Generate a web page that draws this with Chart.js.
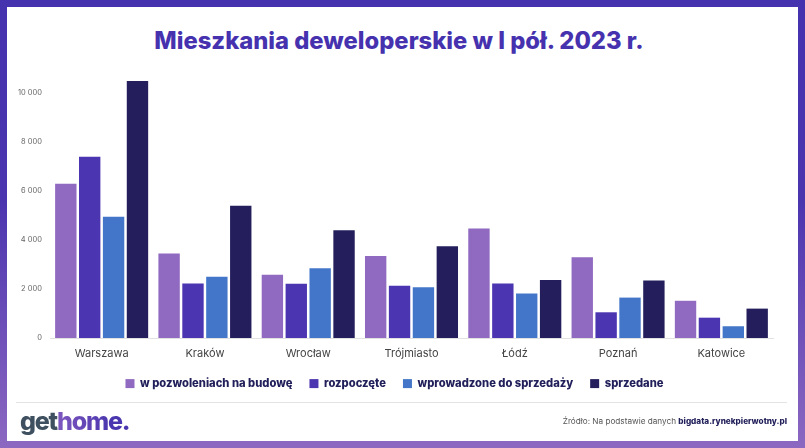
<!DOCTYPE html>
<html lang="pl">
<head>
<meta charset="utf-8">
<title>Mieszkania deweloperskie</title>
<script src="https://cdn.jsdelivr.net/npm/chart.js@4"></script>
<style>
	html, body { margin: 0; padding: 0; }
	body { width: 805px; height: 448px; overflow: hidden; position: relative; background: linear-gradient(180deg, #4532ae 0%, #4b35af 45%, #8c68c1 100%); }
	#panel { position: absolute; left: 7px; top: 7px; width: 791px; height: 434px; background: #fff; }
	#wrap { position: absolute; left: 0; top: 0; width: 805px; height: 448px; }
	#title { position: absolute; left: 0; top: 26px; width: 798px; text-align: center; font: 800 23.75px Inter, sans-serif; line-height: 30px; color: #4632ae; }
	#rule { position: absolute; left: 16px; top: 402px; width: 771px; height: 1px; background: #e4e4e4; }
	#logo { position: absolute; left: 20px; top: 406px; font: 800 25px Inter, sans-serif; line-height: 30px; letter-spacing: -1.2px; color: #3f5160; }
	#logo span { background: linear-gradient(90deg, #7f58c0, #4a36ae 75%); -webkit-background-clip: text; background-clip: text; color: transparent; }
	#source { position: absolute; right: 18px; top: 416px; font: 400 8.2px Inter, sans-serif; line-height: 11px; color: #555; }
	#source b { color: #22205a; font-weight: 800; }
</style>
</head>
<body>
<div id="panel"></div>
<div id="title">Mieszkania deweloperskie w I pół. 2023 r.</div>
<div id="rule"></div>
<div id="wrap"><canvas id="mycanvas" width="805" height="448"></canvas></div>
<div id="logo">get<span>home.</span></div>
<div id="source">Źródło: Na podstawie danych <b>bigdata.rynekpierwotny.pl</b></div>
<script>
	var cities = ["Warszawa", "Kraków", "Wrocław", "Trójmiasto", "Łódź", "Poznań", "Katowice"];
	var pozwolenia = [6300, 3450, 2580, 3350, 4470, 3300, 1520];
	var rozpoczete = [7400, 2230, 2220, 2130, 2230, 1050, 830];
	var wprowadzone = [4950, 2500, 2850, 2070, 1820, 1650, 480];
	var sprzedane = [10500, 5400, 4400, 3750, 2370, 2350, 1200];
	var yTicks = [0, 2000, 4000, 6000, 8000, 10000];

	function makeSet(label, values, color) {
		return {
			label: label,
			data: values,
			backgroundColor: color,
			categoryPercentage: 0.925,
			barPercentage: 0.895
		};
	}

	var chartdata = {
		labels: cities,
		datasets: [
			makeSet("w pozwoleniach na budowę", pozwolenia, "#9069c0"),
			makeSet("rozpoczęte", rozpoczete, "#4b35b0"),
			makeSet("wprowadzone do sprzedaży", wprowadzone, "#4376c8"),
			makeSet("sprzedane", sprzedane, "#241f5c")
		]
	};

	// legend sits closer to the axis than chart.js would place it
	var legendFit = {
		id: "legendFit",
		beforeInit: function(chart) {
			var fit = chart.legend.fit;
			chart.legend.fit = function() {
				fit.call(this);
				this.height = 36;
			};
		}
	};

	var barGraph = new Chart(document.getElementById("mycanvas"), {
		type: "bar",
		data: chartdata,
		plugins: [legendFit],
		options: {
			responsive: false,
			animation: false,
			layout: { padding: { left: 16, right: 32, top: 76, bottom: 51 } },
			plugins: {
				legend: {
					position: "bottom",
					labels: {
						color: "#22205a",
						font: { family: "Inter", size: 11.2, weight: "800" },
						boxWidth: 9,
						boxHeight: 9,
						padding: 17
					}
				},
				tooltip: { enabled: false }
			},
			scales: {
				x: {
					grid: { display: false, drawTicks: false },
					border: { color: "#e2e2e2" },
					ticks: { color: "#444", font: { family: "Inter", size: 11 }, padding: 9 },
					afterFit: function(scale) {
						scale.height = 23;
					}
				},
				y: {
					min: 0,
					max: 10700,
					grid: { display: false, drawTicks: false },
					border: { display: false },
					afterBuildTicks: function(scale) {
						scale.ticks = yTicks.map(function(v) {
							return { value: v };
						});
					},
					afterFit: function(scale) {
						scale.width = 34;
					},
					ticks: {
						color: "#666",
						font: { family: "Inter", size: 7.5 },
						padding: 8,
						callback: function(value) {
							return String(value).replace(/\B(?=(\d{3})+$)/g, " ");
						}
					}
				}
			}
		}
	});
</script>
</body>
</html>
